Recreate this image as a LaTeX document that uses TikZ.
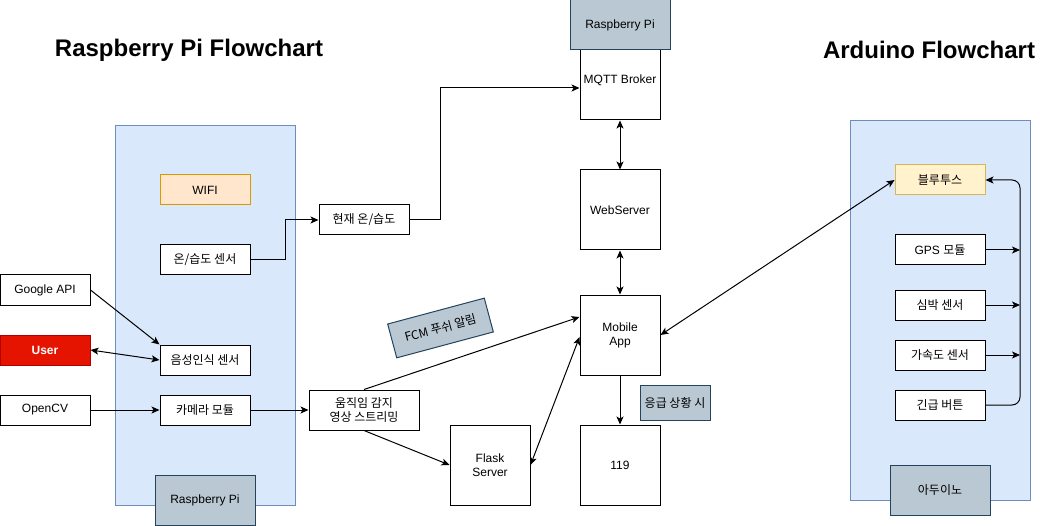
\documentclass[tikz,border=0pt]{standalone}
\usepackage{fontspec}
\setmainfont{Liberation Sans}
\newfontfamily\kr{Noto Sans CJK KR}
\usetikzlibrary{arrows.meta}
\begin{document}
\begin{tikzpicture}
  [x=1pt,y=-1pt,
   box/.style={draw,fill=white,line width=1pt,minimum width=90pt,minimum height=30pt,
     inner sep=0pt,align=center,font=\fontsize{12}{14}\selectfont},
   sq/.style={box,minimum width=80pt,minimum height=80pt},
   panel/.style={draw=panelline,fill=panelfill,line width=.8pt,minimum width=180pt,minimum height=380pt},
   tag/.style={box,draw=tagline,fill=tagfill,minimum width=100pt,minimum height=50pt},
   arr/.style={line width=1pt,-{Stealth[length=8pt,width=7pt,inset=2pt]}},
   dbl/.style={line width=1pt,{Stealth[length=8pt,width=7pt,inset=2pt]}-{Stealth[length=8pt,width=7pt,inset=2pt]}},
   title/.style={font=\bfseries\fontsize{24}{28}\selectfont}]

  \definecolor{panelfill}{HTML}{DAE8FC}
  \definecolor{panelline}{HTML}{6C8EBF}
  \definecolor{tagfill}{HTML}{BAC8D3}
  \definecolor{tagline}{HTML}{23445D}

  \def\L{205}
  \def\M{620}
  \def\R{940}

  \useasboundingbox (0,0) rectangle (1064,526);

  \node[title] (rpititle) at (189,50) {Raspberry Pi Flowchart};
  \node[title] (arduinotitle) at (929,50) {Arduino Flowchart};

  \node[panel] (rpipanel) at (\L,315) {};
  \node[panel] (arduinopanel) at (\R,310) {};

  \node[box,draw={rgb,255:red,215;green,155;blue,0},fill={rgb,255:red,255;green,230;blue,204}] (wifi) at (\L,190) {WIFI};
  \node[box] (thsensor) at (\L,260) {\kr 온/습도 센서};
  \node[box] (voice) at (\L,360) {\kr 음성인식 센서};
  \node[box] (camera) at (\L,410) {\kr 카메라 모듈};
  \node[tag] (rpilabel) at (\L,500) {Raspberry Pi};

  \node[box] (google) at (45,290) {Google API};
  \node[box,draw={rgb,255:red,178;green,0;blue,0},fill={rgb,255:red,229;green,20;blue,0},text=white,font=\bfseries\fontsize{12}{14}\selectfont] (user) at (45,350) {User};
  \node[box] (opencv) at (45,410) {OpenCV};

  \node[box] (curth) at (364,220) {\kr 현재 온/습도};
  \node[box,minimum width=110pt,minimum height=40pt,font=\kr\fontsize{12}{14}\selectfont] (motion) at (364,410) {움직임 감지\\영상 스트리밍};

  \node[sq] (mqtt) at (\M,80) {MQTT Broker};
  \node[tag] (rpitop) at (\M,25) {Raspberry Pi};
  \node[sq] (web) at (\M,210) {WebServer};
  \node[sq] (app) at (\M,335) {Mobile\\App};
  \node[sq] (flask) at (490,465) {Flask\\Server};
  \node[sq] (call) at (\M,465) {119};
  \node[tag,minimum width=70pt,minimum height=35pt,font=\kr\fontsize{12}{14}\selectfont] (emergency) at (675,402.5) {응급 상황 시};
  \node[tag,minimum width=100pt,minimum height=35pt,rotate=15,font=\kr\fontsize{12}{14}\selectfont] (fcm) at (440.5,328) {FCM 푸쉬 알림};

  \node[box,draw={rgb,255:red,214;green,182;blue,86},fill={rgb,255:red,255;green,242;blue,204}] (bt) at (\R,180) {\kr 블루투스};
  \node[box] (gps) at (\R,250) {GPS {\kr 모듈}};
  \node[box] (heart) at (\R,305) {\kr 심박 센서};
  \node[box] (accel) at (\R,355) {\kr 가속도 센서};
  \node[box] (button) at (\R,405) {\kr 긴급 버튼};
  \node[tag] (arduinolabel) at (\R,490) {\kr 아두이노};

  \coordinate (bus) at (1020,180);

  \draw[arr] (thsensor.east) -- ++(35,0) |- (curth.west);
  \draw[arr] (curth.east) -- ++(31,0) |- ([yshift=-8pt]mqtt.west);
  \draw[dbl] (mqtt.south) -- (web.north);
  \draw[dbl] (web.south) -- (app.north);
  \draw[arr] (app.south) -- (call.north);

  \draw[arr] (google.east) -- (voice.north west);
  \draw[dbl] (user.east) -- (voice.west);
  \draw[arr] (opencv.east) -- (camera.west);
  \draw[arr] (camera.east) -- (motion.west);

  \draw[arr] (motion.north) -- ([yshift=18pt]app.west);
  \draw[arr] (motion.south) -- (flask.west);
  \draw[dbl] (flask.east) -- ([yshift=-2pt]app.west);
  \draw[dbl] (app.east) -- (bt.west);

  \draw[arr,rounded corners=8pt] (button.east) -| (bus) -- (bt.east);
  \draw[arr] (gps.east) -- (gps.east -| bus);
  \draw[arr] (heart.east) -- (heart.east -| bus);
  \draw[arr] (accel.east) -- (accel.east -| bus);
\end{tikzpicture}
\end{document}
